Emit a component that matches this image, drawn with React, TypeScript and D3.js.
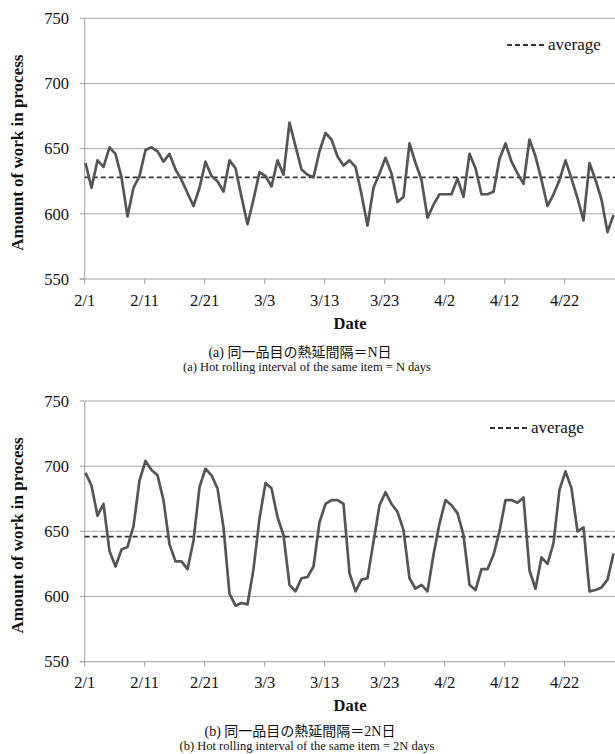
import React, { useRef, useEffect } from 'react';
import * as d3 from 'd3';

// x axis tick labels (every 10 days)
const tickLabels = ['2/1', '2/11', '2/21', '3/3', '3/13', '3/23', '4/2', '4/12', '4/22'];
const yTicks = [550, 600, 650, 700, 750];

// daily dates 2/1 .. 4/30
const dates = d3.timeDay.range(new Date(2015, 1, 1), new Date(2015, 4, 1));

// (a) interval = N days
const wipN = [
  639, 620, 641, 636, 651, 646, 628, 598, 620, 629,
  649, 651, 648, 640, 646, 634, 626, 616, 606, 620,
  640, 629, 625, 617, 641, 635, 613, 592, 611, 632,
  629, 621, 641, 630, 670, 652, 634, 630, 628, 648,
  662, 657, 644, 637, 641, 636, 615, 591, 620, 631,
  643, 631, 609, 613, 654, 639, 626, 597, 607, 615,
  615, 615, 627, 613, 646, 635, 615, 615, 617, 642,
  654, 640, 631, 623, 657, 644, 626, 606, 615, 626,
  641, 627, 612, 595, 639, 626, 611, 586, 599,
];
const avgN = 628;

// (b) interval = 2N days
const wip2N = [
  695, 685, 662, 671, 635, 623, 636, 638, 654, 689,
  704, 697, 693, 674, 640, 627, 627, 621, 643, 684,
  698, 693, 683, 653, 602, 593, 595, 594, 621, 660,
  687, 683, 661, 647, 609, 604, 614, 615, 623, 657,
  671, 674, 674, 671, 618, 604, 613, 614, 642, 670,
  680, 671, 665, 651, 614, 606, 609, 604, 632, 656,
  674, 670, 664, 647, 609, 605, 621, 621, 632, 650,
  674, 674, 672, 676, 620, 606, 630, 625, 641, 682,
  696, 683, 650, 653, 604, 605, 607, 613, 633,
];
const avg2N = 646;

const serif = '"Liberation Serif", "Times New Roman", serif';
const capFont = '"Liberation Serif", "Noto Sans CJK JP", serif';

const parseLabel = (s: string) => {
  const [m, d] = s.split('/').map(Number);
  return new Date(2015, m - 1, d);
};

const panels = [
  {
    data: wipN, avg: avgN, yTop: 18.3, yBottom: 279,
    legend: { x: 507, y: 45 },
    jp: '(a) 同一品目の熱延間隔＝N日',
    en: '(a) Hot rolling interval of the same item = N days',
    capY: 352,
  },
  {
    data: wip2N, avg: avg2N, yTop: 401, yBottom: 661.7,
    legend: { x: 490, y: 428 },
    jp: '(b) 同一品目の熱延間隔＝2N日',
    en: '(b) Hot rolling interval of the same item = 2N days',
    capY: 731,
  },
];

const App = () => {
  const svgRef = useRef<SVGSVGElement>(null);

  useEffect(() => {
    const svg = d3.select(svgRef.current);
    svg.selectAll('*').remove();

    const x = d3.scaleTime()
      .domain([dates[0], dates[dates.length - 1]])
      .range([85.5, 613.5]);
    const left = 84.7;
    const right = 615;

    panels.forEach(p => {
      const y = d3.scaleLinear().domain([550, 750]).range([p.yBottom, p.yTop]);
      const g = svg.append('g');

      // horizontal gridlines
      g.selectAll('.grid')
        .data(yTicks.slice(1))
        .enter()
        .append('line')
        .attr('x1', left).attr('x2', right)
        .attr('y1', d => y(d)).attr('y2', d => y(d))
        .attr('stroke', '#a8a8a8')
        .attr('stroke-width', 1);

      // axes
      g.append('line')
        .attr('x1', left).attr('x2', left)
        .attr('y1', y(750)).attr('y2', y(550))
        .attr('stroke', '#a0a0a0');
      g.append('line')
        .attr('x1', left - 5).attr('x2', right)
        .attr('y1', y(550)).attr('y2', y(550))
        .attr('stroke', '#a0a0a0');

      // y ticks + labels
      yTicks.forEach(v => {
        g.append('line')
          .attr('x1', left - 5).attr('x2', left)
          .attr('y1', y(v)).attr('y2', y(v))
          .attr('stroke', '#a0a0a0');
        g.append('text')
          .attr('x', 69).attr('y', y(v))
          .attr('dy', '0.35em')
          .attr('text-anchor', 'end')
          .attr('font-family', serif)
          .attr('font-size', 16.5)
          .attr('fill', '#111')
          .text(v);
      });

      // x ticks + labels
      tickLabels.forEach(lbl => {
        const xv = x(parseLabel(lbl)) - 0.8;
        g.append('line')
          .attr('x1', xv).attr('x2', xv)
          .attr('y1', y(550)).attr('y2', y(550) + 5)
          .attr('stroke', '#a0a0a0');
        g.append('text')
          .attr('x', xv).attr('y', y(550) + 21)
          .attr('dy', '0.35em')
          .attr('text-anchor', 'middle')
          .attr('font-family', serif)
          .attr('font-size', 16.5)
          .attr('fill', '#111')
          .text(lbl);
      });

      // axis titles
      g.append('text')
        .attr('x', 350).attr('y', y(550) + 44)
        .attr('dy', '0.35em')
        .attr('text-anchor', 'middle')
        .attr('font-family', serif)
        .attr('font-weight', 'bold')
        .attr('font-size', 16.5)
        .attr('fill', '#111')
        .text('Date');
      const midY = (p.yTop + p.yBottom) / 2 + 4;
      g.append('text')
        .attr('transform', `translate(17,${midY}) rotate(-90)`)
        .attr('dy', '0.35em')
        .attr('text-anchor', 'middle')
        .attr('font-family', serif)
        .attr('font-weight', 'bold')
        .attr('font-size', 17)
        .attr('fill', '#111')
        .text('Amount of work in process');

      // average line
      g.append('line')
        .attr('x1', left).attr('x2', right)
        .attr('y1', y(p.avg)).attr('y2', y(p.avg))
        .attr('stroke', '#333')
        .attr('stroke-width', 1.8)
        .attr('stroke-dasharray', '5,3');

      // series line
      const line = d3.line<number>()
        .x((_, i) => x(dates[i]))
        .y(d => y(d));
      g.append('path')
        .datum(p.data)
        .attr('d', line)
        .attr('fill', 'none')
        .attr('stroke', '#555')
        .attr('stroke-width', 2.7)
        .attr('stroke-linejoin', 'round');

      // legend
      g.append('line')
        .attr('x1', p.legend.x).attr('x2', p.legend.x + 40)
        .attr('y1', p.legend.y).attr('y2', p.legend.y)
        .attr('stroke', '#333')
        .attr('stroke-width', 1.8)
        .attr('stroke-dasharray', '5,3');
      g.append('text')
        .attr('x', p.legend.x + 41).attr('y', p.legend.y)
        .attr('dy', '0.3em')
        .attr('font-family', serif)
        .attr('font-size', 17)
        .attr('fill', '#111')
        .text('average');

      // captions
      g.append('text')
        .attr('x', 300).attr('y', p.capY)
        .attr('dy', '0.35em')
        .attr('text-anchor', 'middle')
        .attr('font-family', capFont)
        .attr('font-size', 14)
        .attr('fill', '#111')
        .text(p.jp);
      g.append('text')
        .attr('x', 307).attr('y', p.capY + 14.5)
        .attr('dy', '0.35em')
        .attr('text-anchor', 'middle')
        .attr('font-family', serif)
        .attr('font-size', 12.5)
        .attr('fill', '#111')
        .text(p.en);
    });
  }, []);

  return (
    <svg
      ref={svgRef}
      width={615}
      height={754}
      style={{ position: 'absolute', left: 0, top: 0, background: '#fff' }}
    ></svg>
  );
};

export default App;
